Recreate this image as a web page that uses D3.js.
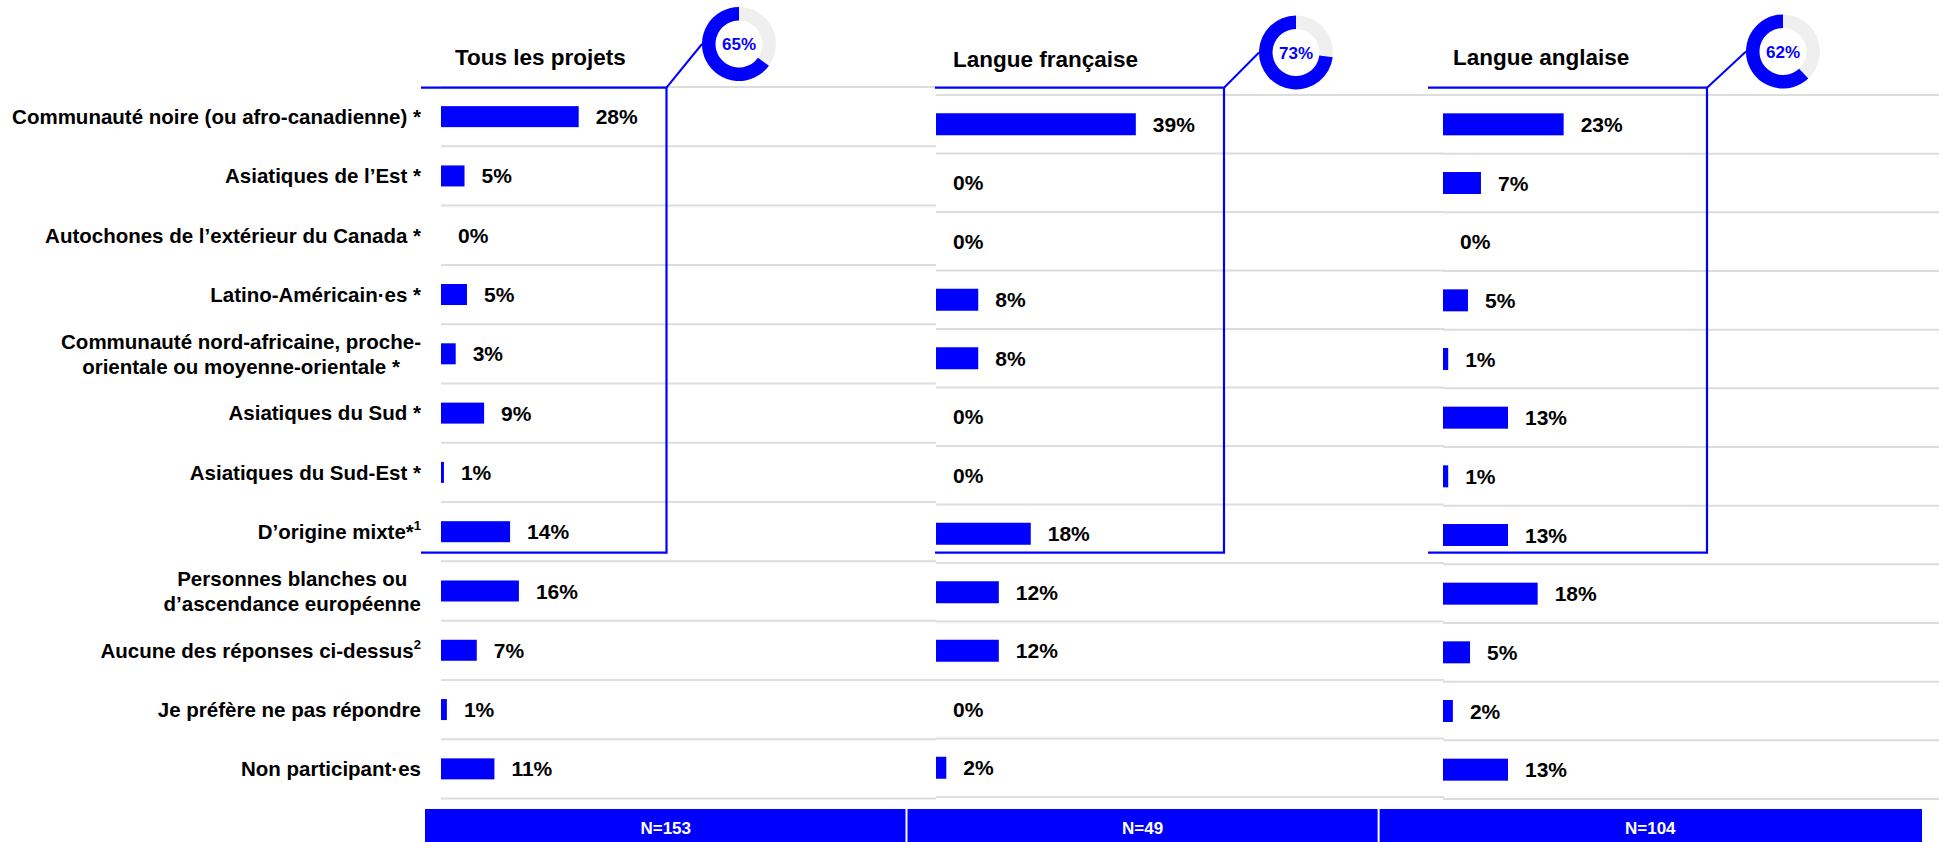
<!DOCTYPE html>
<html>
<head>
<meta charset="utf-8">
<script src="https://cdn.jsdelivr.net/npm/d3@7"></script>
<style>
  body { margin: 0; background: #fff; }
  svg { display: block; font-family: "Liberation Sans", Arial, sans-serif; font-weight: bold; }
</style>
</head>
<body>
<div id="chart"></div>
<script>
// row labels ("|" = line break), with footnote marks
const categories = [
  "Communauté noire (ou afro-canadienne) *",
  "Asiatiques de l’Est *",
  "Autochones de l’extérieur du Canada *",
  "Latino-Américain·es *",
  "Communauté nord-africaine, proche-|orientale ou moyenne-orientale *",
  "Asiatiques du Sud *",
  "Asiatiques du Sud-Est *",
  "D’origine mixte*",
  "Personnes blanches ou|d’ascendance européenne",
  "Aucune des réponses ci-dessus",
  "Je préfère ne pas répondre",
  "Non participant·es"
];
const supMarks = ["", "", "", "", "", "", "", "1", "", "2", "", ""];

const columnTitles = ["Tous les projets", "Langue française", "Langue anglaise"];
const sampleSizes = ["N=153", "N=49", "N=104"];
const donutValues = [65, 73, 62];

// percentages per category
const valuesAll = [28.1, 4.8, 0, 5.3, 3.0, 8.8, 0.6, 14.1, 15.9, 7.3, 1.2, 10.9];
const valuesFr  = [38.8, 0, 0, 8.2, 8.2, 0, 0, 18.4, 12.2, 12.2, 0, 2.0];
const valuesEn  = [23.2, 7.3, 0, 4.8, 1.0, 12.5, 1.0, 12.5, 18.2, 5.2, 1.9, 12.5];

const W = 1939, H = 842;
const BLUE = "#0000FF";
const GRID = "#DDDDDD";
const LABEL_RIGHT = 421;
const BOX_TOP = 87.7, BOX_BOTTOM = 552.7;

// layout of each panel
const panels = [
  { values: valuesAll, barX: 441, ppp: 4.9, top: 87, bottom: 798.5, gridEnd: 936, boxLeft: 421, boxRight: 666.5,
    donut: [739, 44], titleX: 455, titleY: 65, barH: 21, foot: [425, 906.5] },
  { values: valuesFr, barX: 936, ppp: 5.15, top: 95, bottom: 797, gridEnd: 1444, boxLeft: 935, boxRight: 1224,
    donut: [1296, 52.5], titleX: 953, titleY: 67, barH: 22, foot: [906.5, 1378.6] },
  { values: valuesEn, barX: 1443, ppp: 5.2, top: 95, bottom: 799, gridEnd: 1939, boxLeft: 1428, boxRight: 1707,
    donut: [1783, 51.5], titleX: 1453, titleY: 65, barH: 22, foot: [1378.6, 1922] }
];

const svg = d3.select("#chart").append("svg")
  .attr("width", W)
  .attr("height", H);

const R_OUT = 37, R_IN = 23.5;
const arc = d3.arc().innerRadius(R_IN).outerRadius(R_OUT);

panels.forEach(function(p, i) {
  const g = svg.append("g").attr("class", "panel");

  const y = d3.scaleBand()
    .domain(d3.range(categories.length))
    .range([p.top, p.bottom]);

  const x = d3.scaleLinear()
    .domain([0, 100])
    .range([p.barX, p.barX + p.ppp * 100]);

  // row separators
  const edges = d3.range(categories.length + 1).map(k => p.top + k * y.step());
  g.selectAll("line.grid")
    .data(edges)
    .enter()
    .append("line")
    .attr("class", "grid")
    .attr("x1", p.barX)
    .attr("x2", p.gridEnd)
    .attr("y1", d => d)
    .attr("y2", d => d)
    .attr("stroke", GRID)
    .attr("stroke-width", 2);

  // blue frame around the starred rows + link to donut
  const dx = p.donut[0] - R_OUT, dy = p.donut[1];
  g.append("path")
    .attr("d", `M${p.boxLeft},${BOX_TOP} H${p.boxRight} V${BOX_BOTTOM} H${p.boxLeft}`)
    .attr("fill", "none")
    .attr("stroke", BLUE)
    .attr("stroke-width", 2.2);
  g.append("line")
    .attr("x1", p.boxRight).attr("y1", BOX_TOP)
    .attr("x2", dx).attr("y2", dy)
    .attr("stroke", BLUE)
    .attr("stroke-width", 2);

  // bars
  g.selectAll("rect.bar")
    .data(p.values)
    .enter()
    .append("rect")
    .attr("class", "bar")
    .attr("x", x(0))
    .attr("y", (d, k) => y(k) + y.bandwidth() / 2 - p.barH / 2)
    .attr("width", d => x(d) - x(0))
    .attr("height", p.barH)
    .attr("fill", BLUE);

  g.selectAll("text.value")
    .data(p.values)
    .enter()
    .append("text")
    .attr("class", "value")
    .attr("x", d => x(d) + 17)
    .attr("y", (d, k) => y(k) + y.bandwidth() / 2)
    .attr("dy", "0.36em")
    .attr("font-size", 21)
    .attr("fill", "#000")
    .text(d => Math.round(d) + "%");

  // column title
  g.append("text")
    .attr("x", p.titleX)
    .attr("y", p.titleY)
    .attr("font-size", 22.5)
    .attr("fill", "#000")
    .text(columnTitles[i]);

  // donut
  const dg = g.append("g").attr("transform", `translate(${p.donut[0]},${p.donut[1]})`);
  dg.append("path")
    .attr("d", arc({ startAngle: 0, endAngle: 2 * Math.PI }))
    .attr("fill", "#EFEFEF");
  dg.append("path")
    .attr("d", arc({ startAngle: 2 * Math.PI * (1 - donutValues[i] / 100), endAngle: 2 * Math.PI }))
    .attr("fill", BLUE);
  dg.append("text")
    .attr("text-anchor", "middle")
    .attr("dy", "0.36em")
    .attr("font-size", 17)
    .attr("fill", BLUE)
    .text(donutValues[i] + "%");

  // sample size footer
  g.append("rect")
    .attr("x", p.foot[0])
    .attr("y", 809)
    .attr("width", p.foot[1] - p.foot[0])
    .attr("height", H - 809)
    .attr("fill", BLUE);
  g.append("text")
    .attr("x", (p.foot[0] + p.foot[1]) / 2)
    .attr("y", 828)
    .attr("dy", "0.36em")
    .attr("text-anchor", "middle")
    .attr("font-size", 17)
    .attr("fill", "#fff")
    .text(sampleSizes[i]);
});

// white separators between footer cells
svg.selectAll("line.sep")
  .data(panels.slice(1))
  .enter()
  .append("line")
  .attr("x1", d => d.foot[0]).attr("x2", d => d.foot[0])
  .attr("y1", 809).attr("y2", H)
  .attr("stroke", "#fff")
  .attr("stroke-width", 2);

// row labels, lines centred on each other, block right-aligned
const yLab = d3.scaleBand()
  .domain(d3.range(categories.length))
  .range([panels[0].top, panels[0].bottom]);

categories.forEach(function(c, k) {
  const lines = c.split("|");
  const lg = svg.append("g").attr("class", "label");
  const cy = yLab(k) + yLab.bandwidth() / 2;
  const texts = lines.map(function(line, j) {
    const t = lg.append("text")
      .attr("text-anchor", "middle")
      .attr("y", (j - (lines.length - 1) / 2) * 25)
      .attr("dy", "0.36em")
      .attr("font-size", 20.5)
      .attr("fill", "#000");
    t.append("tspan").text(line);
    if (j === lines.length - 1 && supMarks[k]) {
      t.append("tspan")
        .attr("font-size", 13)
        .attr("dy", -9)
        .text(supMarks[k]);
    }
    return t;
  });
  const maxW = d3.max(texts, t => t.node().getBBox().width);
  lg.attr("transform", `translate(${LABEL_RIGHT - maxW / 2},${cy})`);
});
</script>
</body>
</html>
